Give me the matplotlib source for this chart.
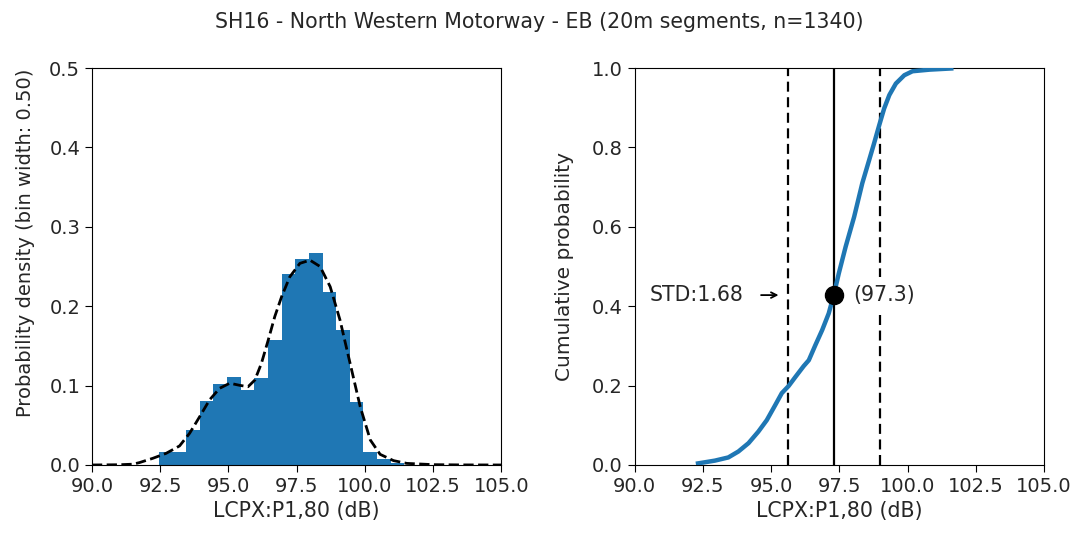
import numpy as np
import matplotlib
matplotlib.use('Agg')
import matplotlib.pyplot as plt

# histogram of LCPX:P1,80, bin width 0.5 dB
bin_edges = [92.45, 92.95, 93.45, 93.95, 94.45, 94.95, 95.45, 95.95, 96.45,
             96.95, 97.45, 97.95, 98.45, 98.95, 99.45, 99.95, 100.45, 100.95,
             101.45]
density = [0.016, 0.016, 0.044, 0.081, 0.102, 0.111, 0.095, 0.109, 0.158,
           0.240, 0.260, 0.267, 0.218, 0.170, 0.079, 0.016, 0.008, 0.003]

# kernel density estimate
kde_x = [90.0, 91.0, 91.5, 91.74, 92.23, 92.72, 93.21, 93.58, 93.95, 94.31,
         94.68, 95.05, 95.42, 95.72, 95.97, 96.21, 96.46, 96.70, 96.95, 97.25,
         97.62, 97.99, 98.36, 98.73, 99.09, 99.46, 99.83, 100.2, 100.56,
         101.05, 101.54, 102.52, 103.5, 105.0]
kde_y = [0.0, 0.0003, 0.001, 0.003, 0.0084, 0.0147, 0.024, 0.040, 0.061,
         0.082, 0.0966, 0.103, 0.1003, 0.0986, 0.107, 0.128, 0.1574, 0.187,
         0.212, 0.237, 0.254, 0.258, 0.250, 0.2246, 0.1826, 0.128, 0.0735,
         0.0315, 0.0134, 0.0055, 0.002, 0.0004, 0.0001, 0.0]

# empirical CDF
cdf_x = [92.32, 92.94, 93.43, 93.80, 94.17, 94.53, 94.84, 95.15, 95.39,
         95.64, 95.89, 96.19, 96.38, 96.62, 96.87, 97.11, 97.30, 97.48, 97.73,
         98.04, 98.34, 98.59, 98.77, 98.96, 99.14, 99.33, 99.57, 99.88,
         100.18, 100.80, 101.6]
cdf_y = [0.004, 0.011, 0.019, 0.034, 0.055, 0.084, 0.113, 0.151, 0.181,
         0.199, 0.222, 0.249, 0.264, 0.302, 0.340, 0.382, 0.430, 0.483, 0.550,
         0.625, 0.710, 0.768, 0.810, 0.856, 0.898, 0.932, 0.961, 0.982,
         0.992, 0.996, 0.999]

mean_val = 97.3
std_val = 1.68
mean_prob = 0.428

title = 'SH16 - North Western Motorway - EB (20m segments, n=1340)'
xlabel = 'LCPX:P1,80 (dB)'
xticks = [90.0, 92.5, 95.0, 97.5, 100.0, 102.5, 105.0]

plt.rcParams['text.color'] = '#262626'
plt.rcParams['xtick.labelcolor'] = '#262626'
plt.rcParams['ytick.labelcolor'] = '#262626'
plt.rcParams['axes.labelcolor'] = '#262626'

fig, (ax1, ax2) = plt.subplots(1, 2, figsize=(10.78, 5.36), dpi=100)
fig.subplots_adjust(left=0.0853, right=0.9685, top=0.873, bottom=0.1325,
                    wspace=0.326)
fig.suptitle(title, fontsize=14.8, y=0.978)

# left: histogram + kde
widths = np.diff(bin_edges)
ax1.bar(bin_edges[:-1], density, width=widths, align='edge', color='#1f77b4')
ax1.plot(kde_x, kde_y, color='k', ls='--', lw=2)
ax1.set_xlim(90, 105)
ax1.set_ylim(0, 0.5)
ax1.set_yticks(np.arange(0, 0.51, 0.1))
ax1.set_ylabel('Probability density (bin width: 0.50)', fontsize=14)
ax1.yaxis.set_label_coords(-0.138, 0.56)

# right: cumulative distribution
ax2.plot(cdf_x, cdf_y, color='#1f77b4', lw=3.2, zorder=3)
ax2.axvline(mean_val, color='k', lw=1.6)
for xv in (mean_val - std_val, mean_val + std_val):
    ax2.axvline(xv, color='k', lw=1.6, dashes=(4.5, 2.5))
ax2.plot(mean_val, mean_prob, 'ko', ms=13, zorder=5)
ax2.text(mean_val + 0.7, mean_prob, '(%.1f)' % mean_val, fontsize=14.8,
         ha='left', va='center', zorder=2.5,
         bbox=dict(facecolor='white', edgecolor='none', pad=6))
ax2.text(mean_val - std_val - 1.64, mean_prob, 'STD:%.2f' % std_val,
         fontsize=14.8, ha='right', va='center')
ax2.annotate('', xy=(mean_val - std_val - 0.35, mean_prob),
             xytext=(mean_val - std_val - 0.99, mean_prob),
             arrowprops=dict(arrowstyle='->', shrinkA=0, shrinkB=0, lw=1.3))
ax2.set_xlim(90, 105)
ax2.set_ylim(0, 1.0)
ax2.set_ylabel('Cumulative probability', fontsize=14.5)
ax2.yaxis.set_label_coords(-0.148, 0.5)

for ax in (ax1, ax2):
    ax.set_xticks(xticks)
    ax.set_xticklabels(['%.1f' % v for v in xticks])
    ax.set_xlabel(xlabel, fontsize=14.8)
    ax.tick_params(labelsize=14, length=5)

fig.savefig('out.png', dpi=100)
